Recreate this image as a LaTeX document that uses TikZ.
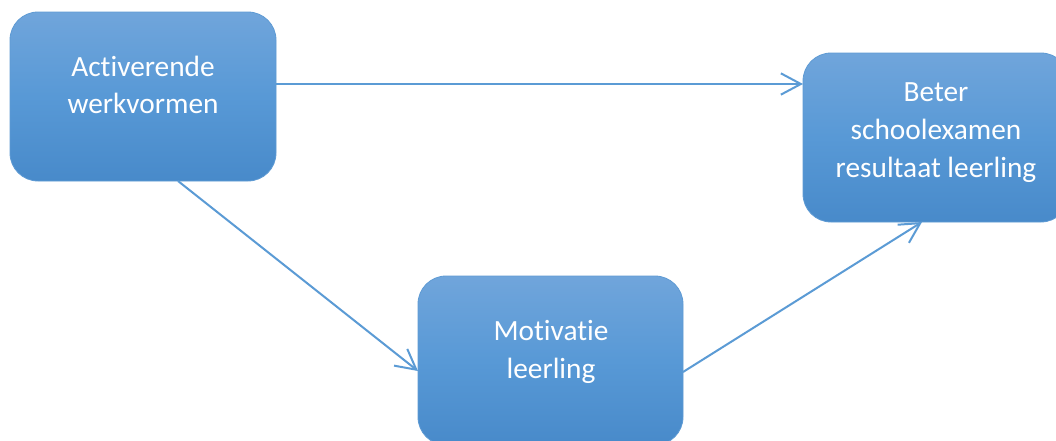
\documentclass[tikz,border=0pt]{standalone}
\usepackage{fontspec}
\setmainfont{Carlito}[RawFeature={-liga;-clig}]
\usetikzlibrary{arrows.meta}
\definecolor{boxtop}{RGB}{112,165,219}
\definecolor{boxmid}{RGB}{88,153,214}
\definecolor{boxbot}{RGB}{72,138,202}
\definecolor{boxedge}{RGB}{95,155,212}
\definecolor{linkblue}{RGB}{91,155,213}
\begin{document}
\begin{tikzpicture}[x=0.75pt,y=-0.75pt,
  box/.style={rectangle, rounded corners=21pt, minimum width=199.5pt, minimum height=126.75pt,
    inner sep=0pt, top color=boxtop, bottom color=boxbot, middle color=boxmid, draw=boxedge, line width=0.6pt},
  boxtext/.style={text=white, align=center, inner sep=0pt, font=\fontsize{22}{28.3}\selectfont},
  link/.style={draw=linkblue, line width=1.5pt, -{Straight Barb[length=15pt,width=16pt,line width=1.5pt]}}]
\clip (0,0) rectangle (1056,440);
\fill[white] (0,0) rectangle (1056,440);
\node[box] (act) at (143,96.5) {};
\node[box] (bet) at (936,137.5) {};
\node[box, minimum width=198.75pt] (mot) at (550.5,360.5) {};
\node[boxtext] (actT) at (143,87.5) {\strut Activerende\\\strut werkvormen};
\node[boxtext] (betT) at (936,131.8) {\strut Beter\\\strut schoolexamen\\\strut resultaat leerling};
\node[boxtext] (motT) at (551,352) {\strut Motivatie\\\strut leerling};
\coordinate (a1) at (276,84);
\coordinate (b1) at (803,84);
\coordinate (a2) at (178,181);
\coordinate (m1) at (418,371);
\coordinate (m2) at (683,372);
\coordinate (b2) at (922,222);
\draw[link] (a1) -- (b1);
\draw[link] (a2) -- (m1);
\draw[link] (m2) -- (b2);
\end{tikzpicture}
\end{document}
